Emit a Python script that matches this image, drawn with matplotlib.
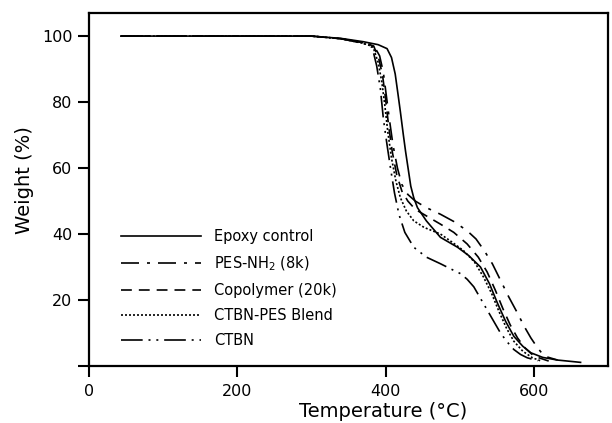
import matplotlib
matplotlib.use('Agg')
import matplotlib.pyplot as plt

# TGA curves (temperature in C, weight in %)
epoxy_t = [43, 300, 340, 370, 390, 402, 408, 413, 417, 420, 424, 427, 431, 434, 438, 443,
           455, 474, 497, 512, 528, 540, 551, 562, 573, 585, 596, 612, 632, 663]
epoxy_w = [100, 100, 99.3, 98.3, 97.4, 96.2, 93.5, 88.5, 82, 77, 70, 65, 59, 54.5, 51, 48,
           44, 39, 36, 33.5, 30, 25, 19, 13.5, 9, 6, 4, 2.6, 1.8, 1.1]

pes_t = [43, 300, 340, 370, 384, 392, 397, 401, 405, 410, 416, 422, 430, 440, 455, 474,
         492, 510, 522, 533, 544, 555, 566, 578, 587, 596, 605, 614, 632]
pes_w = [100, 100, 99.2, 98.0, 97.2, 94, 89, 82, 75, 67, 60, 55, 52, 50, 48, 46,
         43.8, 41, 38.5, 35, 31, 26, 21, 16, 12, 8.5, 5.5, 3, 1.8]

copo_t = [43, 300, 340, 370, 384, 391, 396, 400, 404, 409, 415, 422, 430, 440, 455, 474,
          492, 510, 525, 537, 548, 558, 568, 578, 588, 600, 620]
copo_w = [100, 100, 99.2, 98.0, 97.0, 93, 88, 81, 73, 65, 58, 53, 50, 47.5, 45.5, 43,
          40.5, 37, 33, 28.5, 23, 17.5, 12.5, 8.5, 5.5, 3, 1.5]

blend_t = [43, 300, 340, 370, 383, 390, 395, 399, 403, 408, 414, 420, 428, 438, 452, 474,
           490, 505, 520, 532, 543, 553, 563, 573, 585, 598, 610]
blend_w = [100, 100, 99.2, 97.8, 96.8, 92, 86, 79, 71, 63, 56, 51, 47, 44, 42, 40,
           37.5, 35, 31.5, 27, 22, 16.5, 11.5, 7.5, 4.5, 2.5, 1.5]

ctbn_t = [43, 300, 340, 370, 382, 388, 393, 397, 402, 407, 412, 418, 426, 438, 455, 474,
          490, 501, 510, 519, 528, 537, 546, 555, 564, 573, 582, 591, 605]
ctbn_w = [100, 100, 99.2, 97.8, 96.6, 91, 84, 75, 67, 59.5, 52.5, 46, 40.5, 36, 33, 31,
          29.2, 28, 26.3, 24, 20.5, 17, 13.5, 10, 7.3, 5, 3.5, 2.5, 1.6]

labels = ['Epoxy control', 'PES-NH$_2$ (8k)', 'Copolymer (20k)', 'CTBN-PES Blend', 'CTBN']

fig = plt.figure(figsize=(6.12, 4.23), dpi=100)
ax = fig.add_axes([89 / 612, 1 - 366 / 423, (608 - 89) / 612, (366 - 13) / 423])

lw = 1.2
ax.plot(epoxy_t, epoxy_w, color='black', lw=lw, linestyle='-', label=labels[0])
ax.plot(pes_t, pes_w, color='black', lw=lw, linestyle=(0, (10.8, 4.8, 1.8, 4.8)), label=labels[1])
ax.plot(copo_t, copo_w, color='black', lw=lw, linestyle=(0, (6.5, 4.2)), label=labels[2])
ax.plot(blend_t, blend_w, color='black', lw=lw, linestyle=(0, (1.2, 1.2)), label=labels[3])
ax.plot(ctbn_t, ctbn_w, color='black', lw=lw,
        linestyle=(0, (13, 3.5, 1.2, 3.5, 1.2, 3.5)), label=labels[4])

ax.set_xlim(0, 700)
ax.set_ylim(0, 107)
ax.set_xticks([0, 200, 400, 600])
ax.set_yticks([0, 20, 40, 60, 80, 100])
ax.set_yticklabels(['', '20', '40', '60', '80', '100'])

for s in ax.spines.values():
    s.set_linewidth(1.6)
ax.tick_params(direction='out', length=8, width=1.5, labelsize=11.5)
ax.tick_params(axis='y', pad=4)
ax.tick_params(axis='x', pad=5)

ax.set_xlabel('Temperature (°C)', fontsize=14, labelpad=2)
ax.set_ylabel('Weight (%)', fontsize=14, labelpad=6)
# labels in the original sit off-centre
ax.xaxis.label.set_x(0.566)
ax.yaxis.label.set_y(0.527)

ax.legend(loc='upper left', bbox_to_anchor=(121 / 612, 1 - 229 / 423),
          bbox_transform=fig.transFigure, frameon=False, fontsize=10.5,
          handlelength=5.5, handletextpad=0.9, labelspacing=0.7,
          borderpad=0, borderaxespad=0)

plt.savefig('out.png', dpi=100)
plt.close()
